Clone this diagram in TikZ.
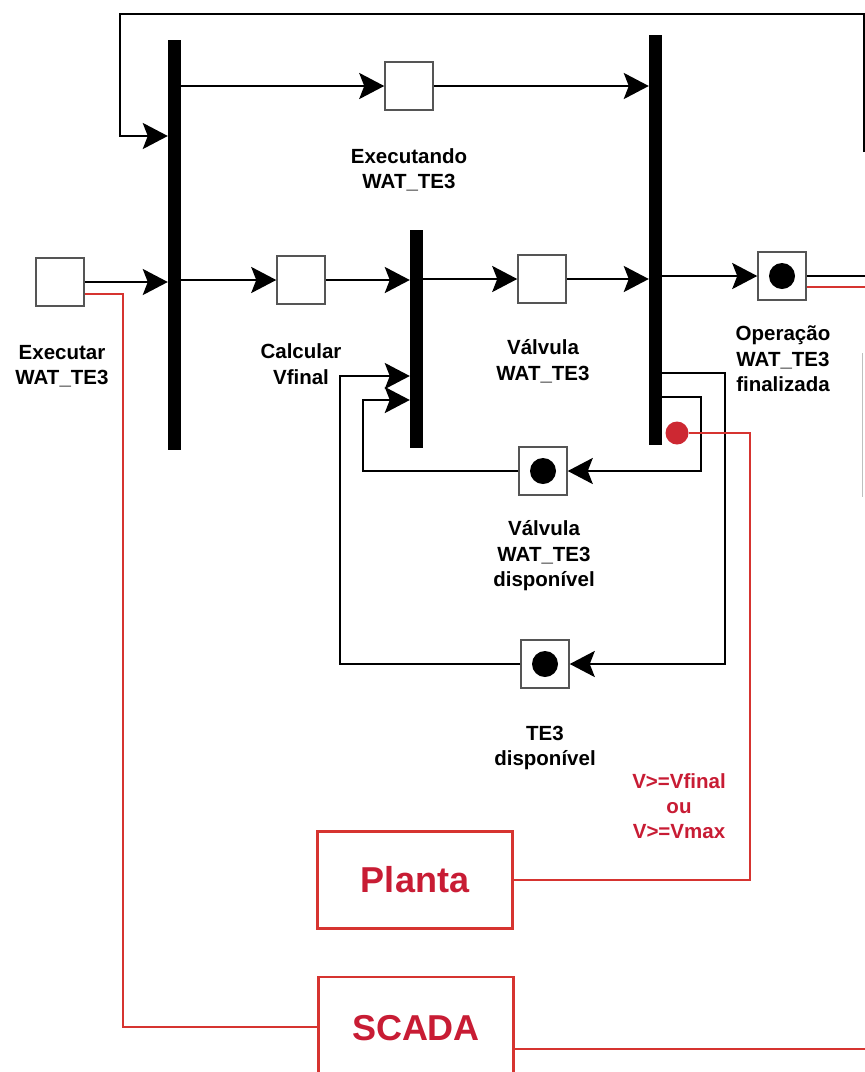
\documentclass[tikz,border=0pt]{standalone}
\usepackage{fontspec}
\setmainfont{Liberation Sans}
\usetikzlibrary{arrows.meta,calc}
\definecolor{redline}{RGB}{214,52,48}
\definecolor{redtext}{RGB}{200,28,52}
\definecolor{reddot}{RGB}{205,40,50}
\definecolor{boxgray}{RGB}{85,85,85}
\tikzset{
  arr/.style={line width=2.6pt,-{Stealth[length=25pt,width=26pt,inset=5pt]}},
  conn/.style={line width=2.6pt},
  redconn/.style={line width=2.6pt,draw=redline},
  place/.style={draw=boxgray,line width=1.5pt,fill=white,minimum size=48pt,inner sep=0pt},
  tok/.style={circle,fill=black,minimum size=26pt,inner sep=0pt},
  barnode/.style={fill=black,minimum width=13pt,inner sep=0pt},
  lbl/.style={font=\fontsize{20.5}{25.5}\selectfont\bfseries,align=center},
  redlbl/.style={font=\fontsize{20.5}{25}\selectfont\bfseries,align=center,text=redtext},
  redbox/.style={draw=redline,line width=2.4pt,fill=white,minimum width=195pt,inner sep=0pt,
    font=\fontsize{36}{42}\selectfont\bfseries,text=redtext},
}
\begin{document}
\begin{tikzpicture}[x=1pt,y=-1pt]
\useasboundingbox[fill=white] (0,0) rectangle (865,1072);

% bars (transitions)
\node[barnode,minimum height=410pt] (b1) at (174.5,245) {};
\node[barnode,minimum height=410pt] (b3) at (655.5,240) {};
\node[barnode,minimum height=218pt] (b2) at (416.5,339) {};

% places
\node[place] (exec) at (60,282) {};
\node[place] (exe) at (409,86) {};
\node[place] (calc) at (301,280) {};
\node[place] (valv) at (542,279) {};
\node[place] (oper) at (782,276) {};
\node[tok] (toper) at (oper) {};
\node[place] (vdisp) at (543,471) {};
\node[tok] (tvdisp) at (vdisp) {};
\node[place] (te3) at (545,664) {};
\node[tok] (tte3) at (te3) {};

% red dot
\node[circle,fill=reddot,minimum size=23pt,inner sep=0pt] (rd) at (677,433) {};

% red boxes
\node[redbox,minimum height=97pt] (planta) at (415,880) {Planta};
\node[redbox,minimum height=112pt] (scada) at (416,1033) {\raisebox{11pt}{SCADA}};

% labels
\node[lbl] (lexe) at (409,170) {Executando\\WAT\_TE3};
\node[lbl] (lexec) at (62,366) {Executar\\WAT\_TE3};
\node[lbl] (lcalc) at (301,364) {Calcular\\Vfinal};
\node[lbl] (lvalv) at (543,361) {Válvula\\WAT\_TE3};
\node[lbl] (loper) at (783,359) {Operação\\WAT\_TE3\\finalizada};
\node[lbl] (lvdisp) at (544,556) {Válvula\\WAT\_TE3\\disponível};
\node[lbl] (lte3) at (545,748) {TE3\\disponível};
\node[redlbl] (lcond) at (679,806) {V>=Vfinal\\ou\\V>=Vmax};

% free ends
\coordinate (topend) at (864,152);
\coordinate (operout) at (865,276);
\coordinate (operred) at (865,287);
\coordinate (scadaout) at (865,1049);

% black connectors
\draw[arr] (topend) |- (120,14) |- (b1.west |- 0,136);
\draw[arr] (b1.east |- exe.west) -- (exe.west);
\draw[arr] (exe.east) -- (exe.east -| b3.west);
\draw[arr] (exec.east) -- (exec.east -| b1.west);
\draw[arr] (b1.east |- calc.west) -- (calc.west);
\draw[arr] (calc.east) -- (calc.east -| b2.west);
\draw[arr] (b2.east |- valv.west) -- (valv.west);
\draw[arr] (valv.east) -- (valv.east -| b3.west);
\draw[arr] (b3.east |- oper.west) -- (oper.west);
\draw[conn] (oper.east) -- (operout);
\draw[arr] (b3.east |- 0,373) -| (725,664) -- (te3.east);
\draw[arr] (b3.east |- 0,397) -| (701,471) -- (vdisp.east);
\draw[arr] (vdisp.west) -| (363,400) -- (b2.west |- 0,400);
\draw[arr] (te3.west) -| (340,376) -- (b2.west |- 0,376);

% red connectors
\draw[redconn] ([yshift=-11pt]oper.east) -- (operred);
\draw[redconn] (rd.east) -| (750,880) -- (planta.east);
\draw[redconn] ([yshift=-12pt]exec.east) -| (123,1027) -- (scada.west |- 0,1027);
\draw[redconn] (scada.east |- scadaout) -- (scadaout);

% faint edge line
\draw[line width=1pt,draw=black!25] (862,353) -- (862,497);
\end{tikzpicture}
\end{document}
